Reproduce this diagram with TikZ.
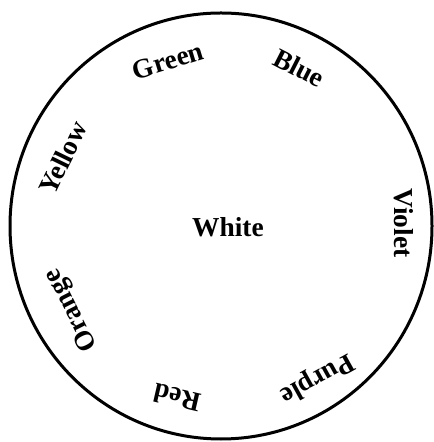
\documentclass[tikz,border=0pt]{standalone}
\usepackage{fontspec}
\setmainfont{Liberation Serif}
\usepackage{xcolor}
\usepackage{tikz}
\usetikzlibrary{positioning, calc}

\begin{document}
\begin{tikzpicture}[
  x=1bp, y=1bp,
  rim/.style={draw=black, line width=3bp},
  hue/.style={font=\bfseries\fontsize{27.5}{27.5}\selectfont, inner sep=0pt},
  every node/.style={anchor=center}
]
\useasboundingbox (0,0) rectangle (434,442);
\coordinate (centre) at (221,216);
\draw[rim] (centre) ellipse [x radius=211, y radius=213];
\node[hue] (white) at (228,215) {White};
\node[hue, rotate=17] (green) at (168,381) {Green};
\node[hue, rotate=-27] (blue) at (299,374) {Blue};
\node[hue, rotate=-90] (violet) at (404,219) {Violet};
\node[hue, rotate=-151] (purple) at (317,64) {Purple};
\node[hue, rotate=167] (red) at (177,44) {Red};
\node[hue, rotate=117] (orange) at (72,132) {Orange};
\node[hue, rotate=64] (yellow) at (63,284) {Yellow};
\end{tikzpicture}
\end{document}
